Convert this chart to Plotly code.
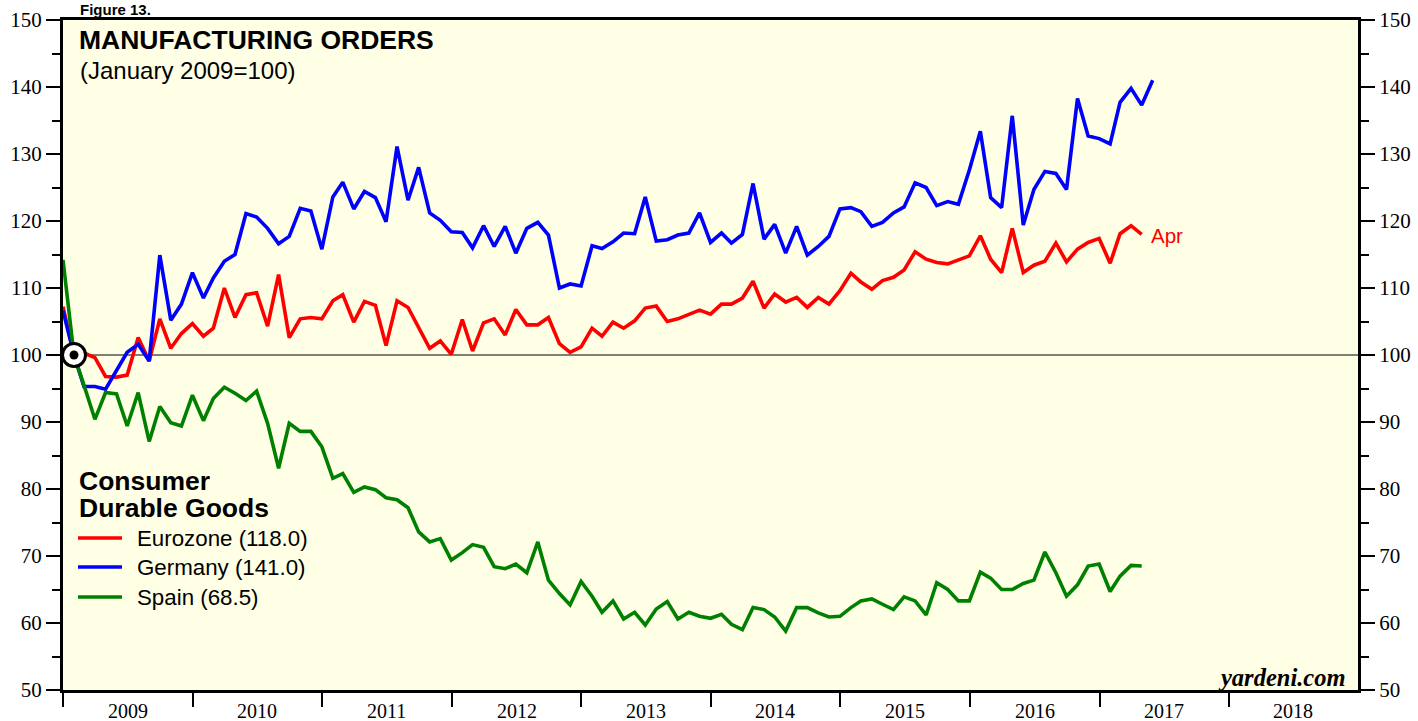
import pandas as pd
import plotly.graph_objects as go

# ---------------- data (monthly, Dec 2008 .. latest) ----------------
eurozone = [107.2,
            100.0, 100.3, 99.6, 96.8, 96.7, 97.0, 102.6, 99.1, 105.4, 101.0, 103.2, 104.7,
            102.8, 104.0, 110.0, 105.6, 109.0, 109.3, 104.3, 112.0, 102.6, 105.4, 105.6, 105.4,
            108.1, 109.0, 104.9, 108.0, 107.4, 101.4, 108.1, 107.1, 104.1, 101.0, 102.1, 100.1,
            105.3, 100.6, 104.8, 105.4, 103.0, 106.8, 104.5, 104.5, 105.6, 101.7, 100.4, 101.2,
            104.0, 102.8, 104.9, 104.0, 105.1, 107.0, 107.3, 105.0, 105.4, 106.1, 106.7, 106.1,
            107.6, 107.6, 108.5, 111.0, 107.0, 109.1, 107.9, 108.6, 107.1, 108.6, 107.6, 109.6,
            112.2, 110.9, 109.8, 111.1, 111.6, 112.7, 115.4, 114.3, 113.8, 113.6, 114.2, 114.8,
            117.8, 114.3, 112.3, 118.9, 112.3, 113.4, 114.0, 116.7, 113.9, 115.8, 116.8, 117.4,
            113.7, 118.1, 119.3, 118.0]

germany = [106.6,
           100.0, 95.3, 95.3, 94.9, 97.8, 100.4, 101.6, 99.1, 114.9, 105.2, 107.6, 112.3,
           108.5, 111.5, 114.0, 115.0, 121.1, 120.6, 118.9, 116.6, 117.7, 121.9, 121.5, 115.8,
           123.6, 125.8, 121.8, 124.4, 123.5, 119.9, 131.1, 123.1, 128.0, 121.2, 120.1, 118.4,
           118.3, 116.0, 119.3, 116.2, 119.2, 115.2, 118.9, 119.8, 117.9, 110.0, 110.6, 110.3,
           116.3, 115.9, 116.9, 118.2, 118.1, 123.6, 117.0, 117.2, 117.9, 118.2, 121.2, 116.8,
           118.2, 116.7, 118.0, 125.6, 117.3, 119.5, 115.2, 119.2, 114.9, 116.2, 117.7, 121.8,
           122.0, 121.4, 119.2, 119.8, 121.2, 122.1, 125.7, 125.0, 122.3, 122.9, 122.5, 127.6,
           133.4, 123.5, 122.0, 135.7, 119.4, 124.7, 127.4, 127.1, 124.7, 138.3, 132.7, 132.3,
           131.5, 137.7, 139.8, 137.3, 141.0]

spain = [114.2,
         100.0, 95.5, 90.4, 94.4, 94.2, 89.4, 94.4, 87.1, 92.3, 89.9, 89.4, 94.0,
         90.2, 93.5, 95.2, 94.3, 93.2, 94.6, 89.8, 83.1, 89.8, 88.6, 88.6, 86.3,
         81.6, 82.3, 79.5, 80.3, 79.9, 78.7, 78.4, 77.2, 73.6, 72.1, 72.6, 69.4,
         70.5, 71.7, 71.3, 68.4, 68.1, 68.8, 67.5, 72.1, 66.4, 64.4, 62.7, 66.2,
         64.0, 61.6, 63.3, 60.6, 61.6, 59.7, 62.1, 63.2, 60.6, 61.6, 61.0, 60.7,
         61.3, 59.8, 59.0, 62.3, 62.0, 60.9, 58.8, 62.3, 62.3, 61.5, 60.9, 61.0,
         62.3, 63.3, 63.6, 62.8, 62.0, 63.9, 63.3, 61.2, 66.0, 65.0, 63.3, 63.3,
         67.6, 66.7, 65.0, 65.0, 65.9, 66.4, 70.6, 67.5, 64.0, 65.7, 68.5, 68.8,
         64.7, 67.0, 68.6, 68.5]

series_names = ["Eurozone", "Germany", "Spain"]
series_colors = ["#FF0000", "#0000FF", "#008000"]
series_values = [eurozone, germany, spain]
latest_labels = ["118.0", "141.0", "68.5"]
year_labels = ["2009", "2010", "2011", "2012", "2013", "2014", "2015", "2016", "2017", "2018"]

start_month = "2008-12"
base_date = "2009-01-31"
base_value = 100

# monthly values plotted at month-end
def month_ends(n):
    return pd.period_range(start_month, periods=n, freq="M").end_time.normalize()

# ---------------- figure ----------------
W, H = 1418, 721
ML, MR, MT, MB = 63, 60, 20, 31
PW, PH = W - ML - MR, H - MT - MB


def px(x):
    return (x - ML) / PW


def py(y):
    return (H - MB - y) / PH


fig = go.Figure()

for name, color, vals in zip(series_names, series_colors, series_values):
    fig.add_trace(go.Scatter(x=month_ends(len(vals)), y=vals, mode="lines", name=name,
                             line=dict(color=color, width=3.6), showlegend=False))

# base marker (January 2009 = 100)
fig.add_trace(go.Scatter(x=[base_date], y=[base_value], mode="markers", showlegend=False,
                         marker=dict(size=23, color="white", line=dict(color="black", width=3))))
fig.add_trace(go.Scatter(x=[base_date], y=[base_value], mode="markers", showlegend=False,
                         marker=dict(size=9, color="black")))
# invisible trace for the right axis
fig.add_trace(go.Scatter(x=[base_date], y=[base_value], yaxis="y2", mode="markers",
                         marker=dict(opacity=0), showlegend=False, hoverinfo="skip"))

serif = "Liberation Serif"
sans = "Liberation Sans, Arial"

yax = dict(range=[50, 150], dtick=10, tick0=50, ticks="outside", ticklen=14, tickwidth=2,
           tickcolor="black", showline=True, linecolor="black", linewidth=3,
           showgrid=False, zeroline=False, automargin=False,
           tickfont=dict(family=serif, size=21, color="black"),
           minor=dict(dtick=5, ticks="outside", ticklen=8, tickwidth=2, tickcolor="black",
                      showgrid=False))

fig.update_layout(
    width=W, height=H,
    margin=dict(l=ML, r=MR, t=MT, b=MB, autoexpand=False),
    paper_bgcolor="white",
    plot_bgcolor="#FFFFE5",
    showlegend=False,
    xaxis=dict(type="date", range=["2008-12-31", "2018-12-31"], tick0="2009-01-01",
               dtick="M12", showticklabels=False,
               ticks="outside", ticklen=14, tickwidth=2, tickcolor="black",
               showline=True, linecolor="black", linewidth=3, mirror=True,
               showgrid=False, zeroline=False, automargin=False),
    yaxis=dict(**yax, side="left", mirror=True),
    yaxis2=dict(**yax, side="right", overlaying="y"),
)

# reference line at 100
fig.add_shape(type="line", xref="paper", x0=0, x1=1, yref="y", y0=base_value, y1=base_value,
              line=dict(color="black", width=1), layer="below")

ann = []
# year labels centred in each year
for yl in year_labels:
    ann.append(dict(text=yl, x=f"{yl}-07-02", xref="x", y=py(711), yref="paper",
                    xanchor="center", yanchor="middle",
                    font=dict(family=serif, size=20, color="black")))
ann.append(dict(text="<b>Figure 13.</b>", x=px(78), y=py(9), xanchor="left", yanchor="middle",
                font=dict(family=sans, size=15, color="black")))
ann.append(dict(text="<b>MANUFACTURING ORDERS</b>", x=px(77), y=py(40), xanchor="left",
                yanchor="middle", font=dict(family=sans, size=26.5, color="black")))
ann.append(dict(text="(January 2009=100)", x=px(78), y=py(70), xanchor="left",
                yanchor="middle", font=dict(family=sans, size=24, color="black")))
ann.append(dict(text="<b>Consumer</b>", x=px(77), y=py(481), xanchor="left",
                yanchor="middle", font=dict(family=sans, size=26.5, color="black")))
ann.append(dict(text="<b>Durable Goods</b>", x=px(77), y=py(508), xanchor="left",
                yanchor="middle", font=dict(family=sans, size=26.5, color="black")))
legend_y = [538, 567, 597]
for name, color, lab, ly in zip(series_names, series_colors, latest_labels, legend_y):
    ann.append(dict(text=f"{name} ({lab})", x=px(135), y=py(ly), xanchor="left",
                    yanchor="middle", font=dict(family=sans, size=22.3, color="black")))
    fig.add_shape(type="line", xref="paper", yref="paper", x0=px(78), x1=px(122),
                  y0=py(ly), y1=py(ly), line=dict(color=color, width=3.6))
ann.append(dict(text="Apr", x=px(1149), y=py(235), xanchor="left", yanchor="middle",
                font=dict(family=sans, size=20.5, color="#FF0000")))
ann.append(dict(text="<b><i>yardeni.com</i></b>", x=px(1348), y=py(677), xanchor="right",
                yanchor="middle", font=dict(family=serif, size=24.5, color="black")))

for a in ann:
    a.setdefault("xref", "paper")
    a.setdefault("yref", "paper")
    a["showarrow"] = False
fig.update_layout(annotations=ann)

fig.write_html("out.html", config={"displayModeBar": False},
               post_script="document.body.style.margin='0';document.body.style.padding='0';")
